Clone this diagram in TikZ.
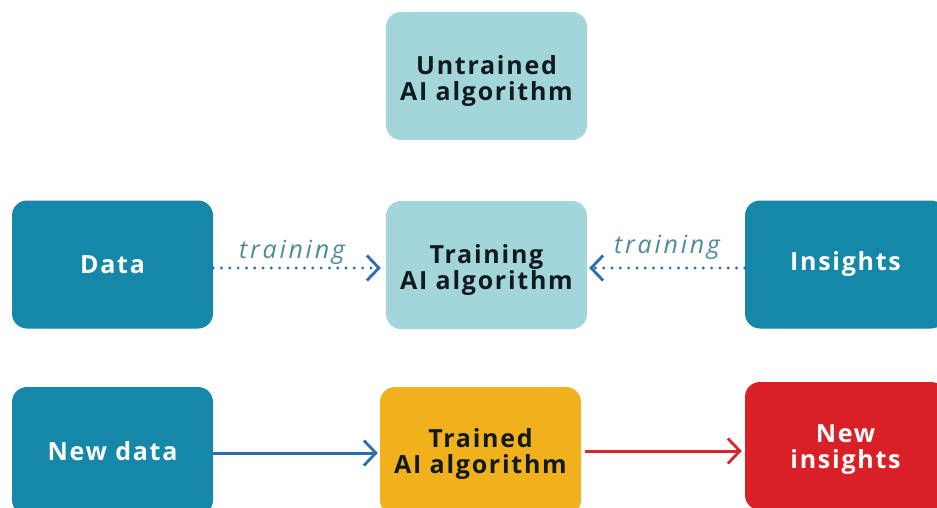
\documentclass[tikz,border=0pt]{standalone}
\usepackage{fontspec}
\setmainfont{Open Sans}
\newfontfamily\cardfont{Open Sans}[LetterSpace=7]
\newfontfamily\labelfont{Open Sans}[LetterSpace=11]
\usetikzlibrary{arrows.meta}
\definecolor{deepteal}{HTML}{1587A9}
\definecolor{paleteal}{HTML}{A3D6DB}
\definecolor{amber}{HTML}{F0B11D}
\definecolor{signalred}{HTML}{D92027}
\definecolor{flowblue}{HTML}{2C6DAF}
\definecolor{flowred}{HTML}{D3262D}
\definecolor{labelteal}{HTML}{4F8A9D}
\definecolor{inkdark}{HTML}{111A1E}
\tikzset{
  card/.style={rounded corners=15pt, minimum width=201pt, minimum height=128pt,
    inner sep=0pt, align=center, font=\cardfont\bfseries\fontsize{25}{26}\selectfont},
  cardtext/.style={inner sep=0pt, align=center, font=\cardfont\bfseries\fontsize{25}{26}\selectfont},
  darkcard/.style={card, fill=deepteal, text=white},
  palecard/.style={card, fill=paleteal, text=inkdark},
  goldcard/.style={card, fill=amber, text=inkdark},
  redcard/.style={card, fill=signalred, text=white},
  chevron/.style={-{Straight Barb[length=12pt, width=25pt, line width=2.8pt]}},
  dotflow/.style={chevron, flowblue, line width=3.2pt, line cap=round,
    dash pattern=on 0pt off 8.3pt},
  solidflow/.style={chevron, line width=3pt},
  flowlabel/.style={text=labelteal, inner sep=0pt, anchor=base,
    font=\labelfont\itshape\fontsize{25}{26}\selectfont}
}
\begin{document}
\begin{tikzpicture}[x=1pt, y=-1pt]
  \useasboundingbox (0,0) rectangle (937,508);
  \clip (0,0) rectangle (937,508);
  \fill[white] (0,0) rectangle (937,508);

  % top: the model before training
  \node[palecard] (untrained) at (486.5,76) {};
  \node[cardtext, text=inkdark] (untrained-text) at ([yshift=-5pt]untrained.center) {Untrained\\AI algorithm};

  % middle row: training
  \node[darkcard] (data) at (112.5,264.5) {Data};
  \node[palecard] (training) at (486.5,265) {};
  \node[cardtext, text=inkdark] (training-text) at ([yshift=-5pt]training.center) {Training\\AI algorithm};
  \node[darkcard] (insights) at (845.5,264.5) {Insights};

  % bottom row: using the trained model
  \node[darkcard] (newdata) at (112.5,451) {New data};
  \node[goldcard] (trained) at (480.5,451) {};
  \node[cardtext, text=inkdark] (trained-text) at ([yshift=-3pt]trained.center) {Trained\\AI algorithm};
  \node[redcard] (newinsights) at (845.5,446) {};
  \node[cardtext, text=white] (newinsights-text) at ([yshift=-4pt]newinsights.center) {New\\insights};

  % training flows
  \draw[dotflow] ([yshift=-3.5pt]data.east) -- ([yshift=-3pt,xshift=-5pt]training.west)
    node[flowlabel, pos=0.47, yshift=10pt] {training};
  \draw[dotflow] ([yshift=-3.5pt]insights.west) -- ([yshift=-3pt,xshift=2pt]training.east)
    node[flowlabel, pos=0.5, yshift=15pt] {training};

  % inference flows
  \draw[solidflow, flowblue] ([yshift=-2pt]newdata.east) -- ([yshift=-2pt,xshift=-2pt]trained.west);
  \draw[solidflow, flowred] ([xshift=4pt]trained.east) -- ([yshift=-5pt,xshift=-3pt]newinsights.west);
\end{tikzpicture}
\end{document}
